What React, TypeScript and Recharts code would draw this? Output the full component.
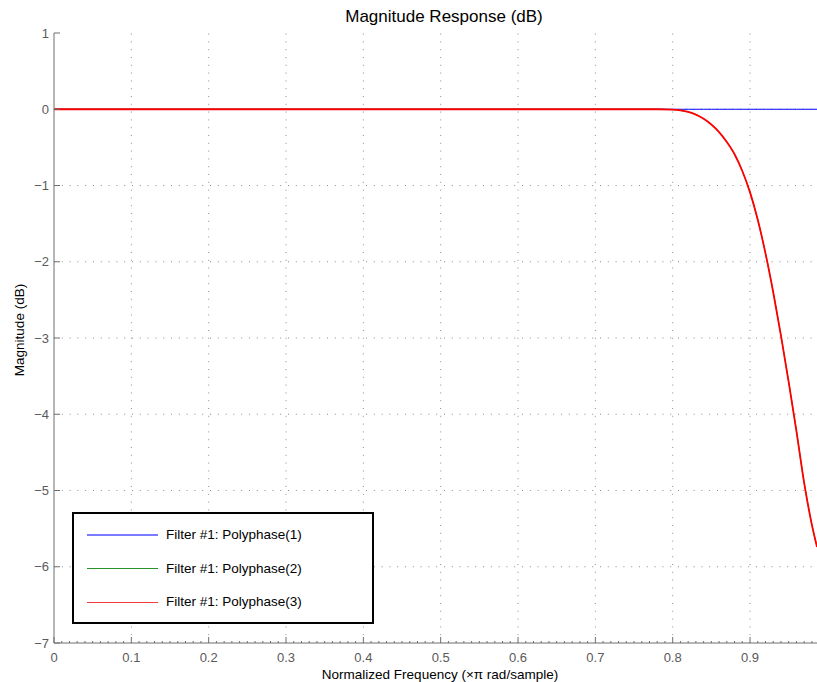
import { LineChart, Line, XAxis, YAxis, ReferenceLine, Legend } from "recharts";

// normalized frequency (x pi rad/sample) and magnitude in dB
const freq = [
  0, 0.1, 0.2, 0.3, 0.4, 0.5, 0.6, 0.7, 0.75, 0.78, 0.8, 0.81, 0.82, 0.83, 0.84,
  0.85, 0.86, 0.87, 0.88, 0.89, 0.9, 0.91, 0.92, 0.93, 0.94, 0.95, 0.96, 0.97,
  0.98, 0.9866,
];
const poly1 = [
  0, 0, 0, 0, 0, 0, 0, 0, 0, 0, 0, 0, 0, 0, 0, 0, 0, 0, 0, 0, 0, 0, 0, 0, 0, 0,
  0, 0, 0, 0,
];
const poly2 = [
  0, 0, 0, 0, 0, 0, 0, 0, 0, 0, -0.005, -0.015, -0.035, -0.07, -0.125, -0.2,
  -0.3, -0.43, -0.59, -0.81, -1.09, -1.45, -1.89, -2.4, -2.97, -3.58, -4.22,
  -4.9, -5.45, -5.74,
];
const poly3 = [
  0, 0, 0, 0, 0, 0, 0, 0, 0, 0, -0.005, -0.015, -0.035, -0.07, -0.125, -0.2,
  -0.3, -0.43, -0.59, -0.81, -1.09, -1.45, -1.89, -2.4, -2.97, -3.58, -4.22,
  -4.9, -5.45, -5.74,
];

const seriesNames = [
  "Filter #1: Polyphase(1)",
  "Filter #1: Polyphase(2)",
  "Filter #1: Polyphase(3)",
];
const seriesColors = ["#0000ff", "#008000", "#ff0000"];
const legendSwatch = [
  { color: "#7b7bff", width: 2 },
  { color: "#2a922a", width: 1 },
  { color: "#f03c3c", width: 1 },
];

const xMajor = [0, 0.1, 0.2, 0.3, 0.4, 0.5, 0.6, 0.7, 0.8, 0.9];
const xMinor = Array.from({ length: 99 }, (_, i) => i / 100);
const yTicks = [1, 0, -1, -2, -3, -4, -5, -6, -7];
const xDomain = [0, 0.9866];

const data = freq.map((f, i) => ({ f, p1: poly1[i], p2: poly2[i], p3: poly3[i] }));

const FONT = '"Liberation Sans", Arial, Helvetica, sans-serif';
const AXIS = "#6e6e6e";
const LABEL = "#5a5a5a";
const GRID = "#8c8c8c";

const isMajor = (v: number) => Math.abs(Math.round(v * 10) - v * 10) < 1e-6;

function BottomTick({ x, y, payload }: any) {
  const v = payload.value;
  const major = isMajor(v);
  return (
    <g>
      <line x1={x} x2={x} y1={y} y2={y - (major ? 6 : 2)} stroke={AXIS} />
      {major && (
        <text x={x} y={y + 14} textAnchor="middle" dominantBaseline="central" fill={LABEL} fontSize={13} fontFamily={FONT}>
          {Number(v.toFixed(1)).toString()}
        </text>
      )}
    </g>
  );
}

function TopTick({ x, y, payload }: any) {
  const major = isMajor(payload.value);
  return <line x1={x} x2={x} y1={y} y2={y + (major ? 6 : 2)} stroke={AXIS} />;
}

function LeftTick({ x, y, payload }: any) {
  const v = payload.value;
  return (
    <g>
      <line x1={x} x2={x + 6} y1={y} y2={y} stroke={AXIS} />
      <text x={x - 5} y={y} textAnchor="end" dominantBaseline="central" fill={LABEL} fontSize={13} fontFamily={FONT}>
        {v < 0 ? `\u2212${-v}` : `${v}`}
      </text>
    </g>
  );
}

function LegendBox() {
  return (
    <div
      style={{
        boxSizing: "border-box",
        width: 302,
        height: 112,
        border: "2px solid #000",
        background: "#fff",
        position: "relative",
        fontFamily: FONT,
        fontSize: 13.5,
        color: "#000",
      }}
    >
      {seriesNames.map((name, i) => (
        <div key={name} style={{ position: "absolute", left: 0, top: 21 + i * 33.6, height: 0 }}>
          <div
            style={{
              position: "absolute",
              left: 13,
              top: -legendSwatch[i].width / 2,
              width: 71,
              height: 0,
              borderTop: `${legendSwatch[i].width}px solid ${legendSwatch[i].color}`,
            }}
          />
          <div style={{ position: "absolute", left: 92, top: -9, whiteSpace: "nowrap", lineHeight: "18px" }}>{name}</div>
        </div>
      ))}
    </div>
  );
}

export default function App() {
  return (
    <div style={{ position: "absolute", left: 0, top: 0, width: 817, height: 682, background: "#fff", fontFamily: FONT, overflow: "hidden" }}>
      <LineChart width={817} height={682} data={data} margin={{ top: 33, right: 0, bottom: 0, left: 0 }}>
        <XAxis
          dataKey="f"
          type="number"
          domain={xDomain}
          allowDataOverflow
          ticks={xMinor}
          interval={0}
          height={39}
          tickSize={0}
          tickMargin={0}
          tickLine={false}
          tick={<BottomTick />}
          axisLine={{ stroke: AXIS }}
        />
        <XAxis
          xAxisId="top"
          dataKey="f"
          type="number"
          orientation="top"
          domain={xDomain}
          allowDataOverflow
          ticks={xMinor}
          interval={0}
          height={0}
          tickSize={0}
          tickMargin={0}
          tickLine={false}
          tick={<TopTick />}
          axisLine={{ stroke: AXIS }}
        />
        <YAxis
          type="number"
          domain={[-7, 1]}
          ticks={yTicks}
          interval={0}
          width={54}
          tickSize={0}
          tickMargin={0}
          tickLine={false}
          tick={<LeftTick />}
          axisLine={{ stroke: AXIS }}
        />
        {xMajor.slice(1).map((t) => (
          <ReferenceLine key={`vx${t}`} x={t} stroke={GRID} strokeDasharray="1 6.8" />
        ))}
        {yTicks.slice(1, -1).map((t) => (
          <ReferenceLine key={`hy${t}`} y={t} stroke={GRID} strokeDasharray="1 6.8" />
        ))}
        <Line type="monotone" dataKey="p1" name={seriesNames[0]} stroke={seriesColors[0]} strokeWidth={1} dot={false} isAnimationActive={false} />
        <Line type="monotone" dataKey="p2" name={seriesNames[1]} stroke={seriesColors[1]} strokeWidth={1} dot={false} isAnimationActive={false} />
        <Line type="monotone" dataKey="p3" name={seriesNames[2]} stroke={seriesColors[2]} strokeWidth={1.8} dot={false} isAnimationActive={false} />
        <Legend
          content={<LegendBox />}
          layout="vertical"
          align="center"
          verticalAlign="middle"
          wrapperStyle={{ left: 72, top: 512, width: 302, height: 112 }}
        />
      </LineChart>
      <div style={{ position: "absolute", left: 444, top: 17, transform: "translate(-50%, -50%)", fontSize: 17, whiteSpace: "nowrap", color: "#000" }}>
        Magnitude Response (dB)
      </div>
      <div style={{ position: "absolute", left: 440, top: 674, transform: "translate(-50%, -50%)", fontSize: 13.5, whiteSpace: "nowrap", color: "#000" }}>
        Normalized Frequency ({"\u00d7\u03c0"} rad/sample)
      </div>
      <div style={{ position: "absolute", left: 19, top: 330, transform: "translate(-50%, -50%) rotate(-90deg)", fontSize: 13.5, whiteSpace: "nowrap", color: "#000" }}>
        Magnitude (dB)
      </div>
    </div>
  );
}
